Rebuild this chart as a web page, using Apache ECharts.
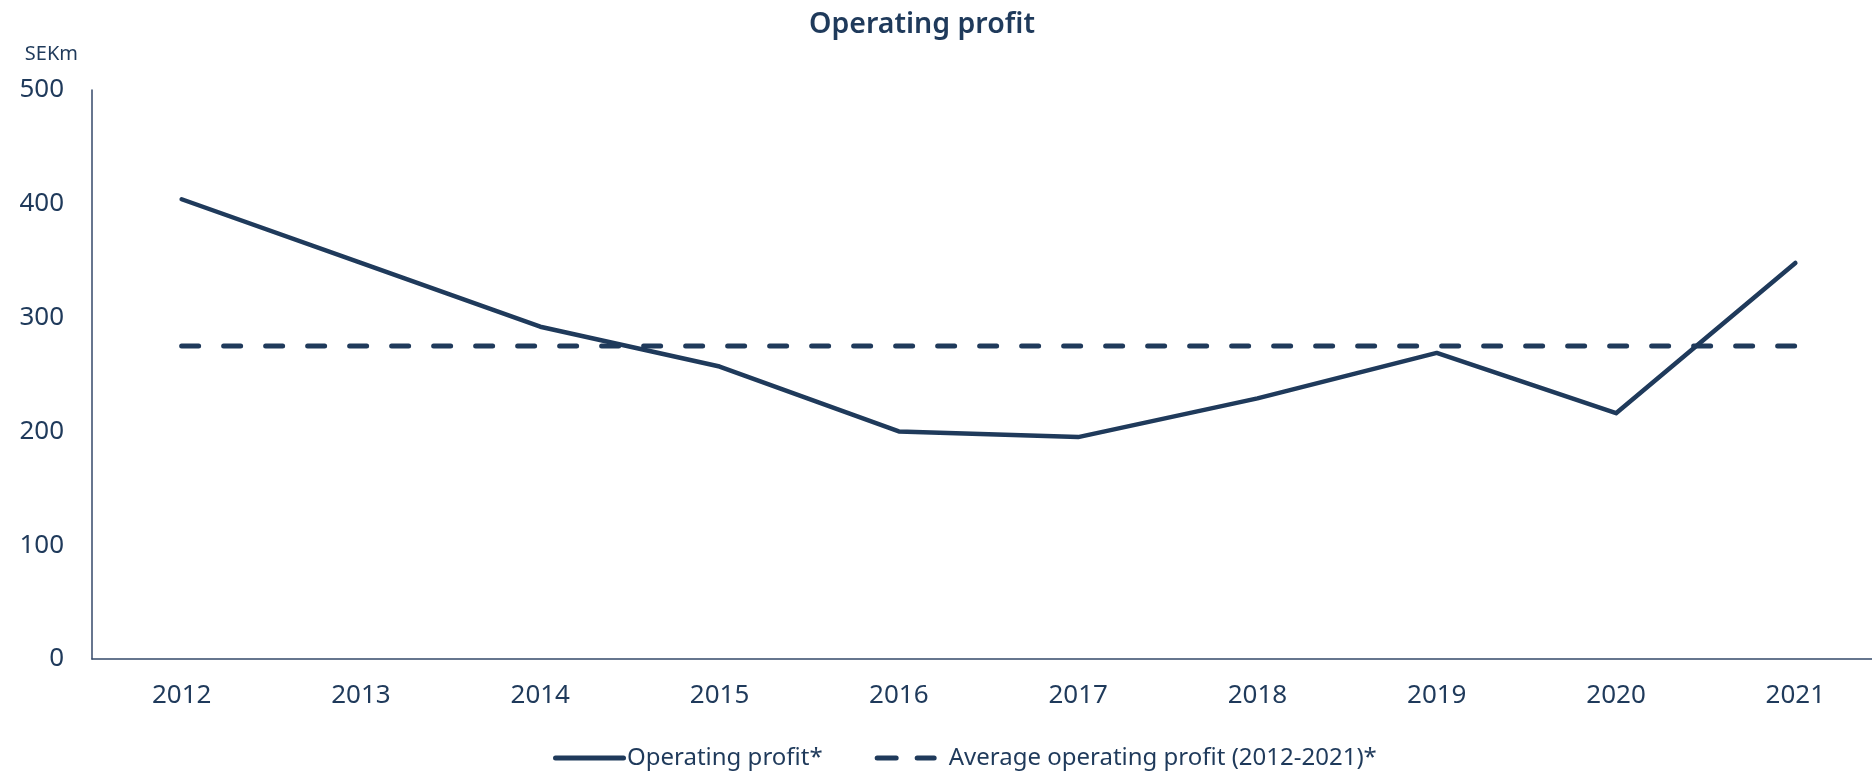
<!DOCTYPE html>
<html>
<head>
<meta charset="utf-8">
<title>Operating profit</title>
<script src="https://cdn.jsdelivr.net/npm/echarts@6/dist/echarts.min.js"></script>
<style>
html, body { margin: 0; padding: 0; background: #fff; }
#chart { width: 1872px; height: 774px; }
</style>
</head>
<body>
<div id="chart"></div>
<script>
var years = ['2012', '2013', '2014', '2015', '2016', '2017', '2018', '2019', '2020', '2021'];
var operatingProfit = [404, 348, 292, 257, 200, 195, 229, 269, 216, 348];
var averageProfit = [275, 275, 275, 275, 275, 275, 275, 275, 275, 275];

var navy = '#1f3a5b';
var font = 'Noto Sans';

// legend icons drawn as rounded strokes, 73 x 5
var solidIcon = 'path://M2.5,0h68a2.5,2.5,0,0,1,0,5h-68a2.5,2.5,0,0,1,0,-5z';
var dashIcon = 'path://M2.5,0h19a2.5,2.5,0,0,1,0,5h-19a2.5,2.5,0,0,1,0,-5z'
	+ 'M42.5,0h17a2.5,2.5,0,0,1,0,5h-17a2.5,2.5,0,0,1,0,-5z'
	+ 'M73,0L73,5';

var chart = echarts.init(document.getElementById('chart'));

chart.setOption({
	animation: false,
	backgroundColor: '#fff',
	title: {
		text: 'Operating profit',
		left: 917,
		textAlign: 'center',
		top: 5,
		textStyle: { color: navy, fontFamily: font, fontSize: 28.5, fontWeight: 600 }
	},
	legend: {
		left: 548,
		top: 741,
		itemWidth: 73,
		itemHeight: 5,
		itemGap: 52,
		textStyle: { color: navy, fontFamily: font, fontSize: 24, padding: [0, 0, 0, -4] },
		data: [
			{ name: 'Operating profit*', icon: solidIcon, itemStyle: { color: navy } },
			{ name: 'Average operating profit (2012-2021)*', icon: dashIcon, itemStyle: { color: navy } }
		]
	},
	grid: {
		left: 92,
		right: -13,
		top: 90,
		bottom: 115,
		containLabel: false,
		outerBoundsMode: 'none'
	},
	xAxis: {
		type: 'category',
		data: years,
		axisLine: { lineStyle: { color: '#34496a', width: 1.5 } },
		axisTick: { show: false },
		axisLabel: { color: navy, fontFamily: font, fontSize: 26, margin: 24 }
	},
	yAxis: {
		type: 'value',
		min: 0,
		max: 500,
		interval: 100,
		name: 'SEKm',
		nameLocation: 'end',
		nameGap: 26,
		nameTextStyle: { color: navy, fontFamily: font, fontSize: 20, align: 'right', padding: [0, 14, 0, 0] },
		axisLine: { show: true, lineStyle: { color: '#34496a', width: 1.5 } },
		axisTick: { show: false },
		splitLine: { show: false },
		axisLabel: { color: navy, fontFamily: font, fontSize: 26, margin: 28 }
	},
	series: [
		{
			name: 'Operating profit*',
			type: 'line',
			data: operatingProfit,
			symbol: 'none',
			color: navy,
			lineStyle: { color: navy, width: 4.5, cap: 'round', join: 'round' }
		},
		{
			name: 'Average operating profit (2012-2021)*',
			type: 'line',
			data: averageProfit,
			symbol: 'none',
			color: navy,
			lineStyle: { color: navy, width: 5, type: [17, 25], cap: 'round' }
		}
	]
});
</script>
</body>
</html>
